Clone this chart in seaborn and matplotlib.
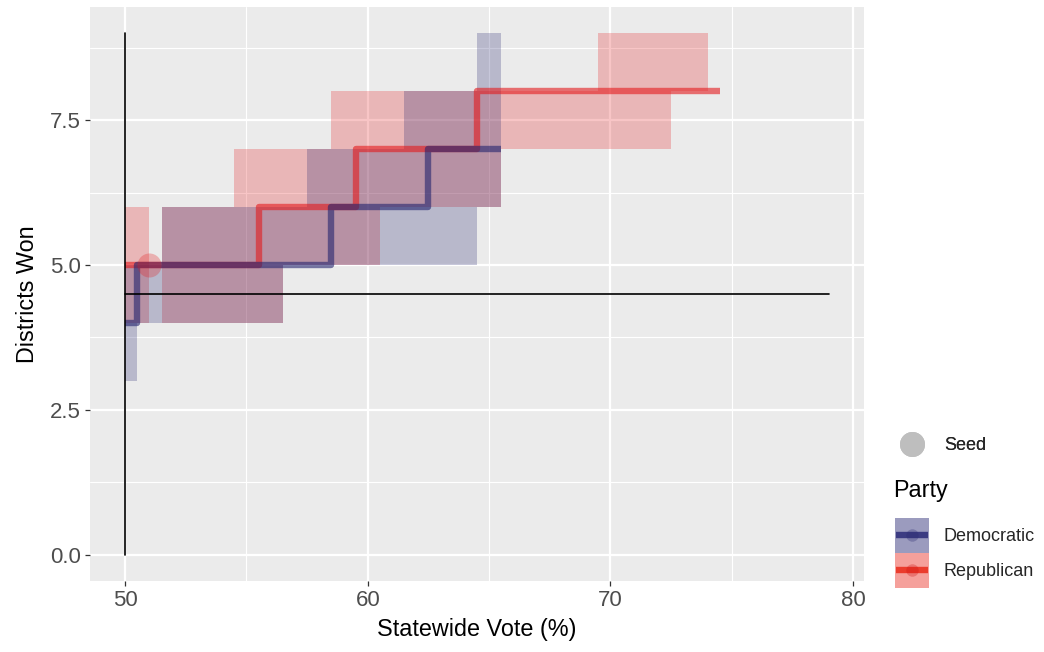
import matplotlib
matplotlib.use("Agg")
import matplotlib.pyplot as plt
from matplotlib.patches import Rectangle
from matplotlib.lines import Line2D
import seaborn as sns
import pandas as pd

# ---------------- data ----------------
parties = ["Democratic", "Republican"]

dem_rect_xmin = [50.0, 50.0, 51.5, 56.5, 57.5, 61.5, 64.5]
dem_rect_xmax = [50.5, 51.5, 56.5, 64.5, 65.5, 65.5, 65.5]
dem_rect_ymin = [3, 4, 4, 5, 6, 7, 8]
dem_rect_ymax = [4, 5, 6, 6, 7, 8, 9]

rep_rect_xmin = [50.0, 51.5, 56.5, 54.5, 58.5, 69.5]
rep_rect_xmax = [51.0, 56.5, 60.5, 65.5, 72.5, 74.0]
rep_rect_ymin = [4, 4, 5, 6, 7, 8]
rep_rect_ymax = [6, 6, 6, 7, 8, 9]

dem_step_x = [50.0, 50.5, 58.5, 62.5, 65.5]
dem_step_y = [4, 5, 6, 7, 7]
rep_step_x = [50.0, 55.5, 59.5, 64.5, 74.5]
rep_step_y = [5, 6, 7, 8, 8]

seed_x = [51.0]
seed_y = [5.0]

vline_x = 50
vline_y = [0, 9]
hline_y = 4.5
hline_x = [50, 79]

x_ticks = [50, 60, 70, 80]
y_ticks = [0.0, 2.5, 5.0, 7.5]
y_tick_labels = ["0.0", "2.5", "5.0", "7.5"]

# ---------------- style ----------------
DEM = "#23236E"
REP = "#E41A1C"
BG = "#EBEBEB"

sns.set_theme(style="darkgrid")
plt.rcParams["font.family"] = ["Liberation Sans", "DejaVu Sans"]

fig = plt.figure(figsize=(10.44, 6.52), dpi=100)
ax = fig.add_axes([90 / 1044, 1 - 581 / 652, (864 - 90) / 1044, (581 - 7) / 652])
ax.set_facecolor(BG)

# rectangles (Republican first, Democratic on top)
rep_df = pd.DataFrame({"xmin": rep_rect_xmin, "xmax": rep_rect_xmax,
                       "ymin": rep_rect_ymin, "ymax": rep_rect_ymax})
dem_df = pd.DataFrame({"xmin": dem_rect_xmin, "xmax": dem_rect_xmax,
                       "ymin": dem_rect_ymin, "ymax": dem_rect_ymax})
ax.bar(rep_df["xmin"], rep_df["ymax"] - rep_df["ymin"], width=rep_df["xmax"] - rep_df["xmin"],
       bottom=rep_df["ymin"], align="edge", color=REP, alpha=0.25, linewidth=0, zorder=2)
ax.bar(dem_df["xmin"], dem_df["ymax"] - dem_df["ymin"], width=dem_df["xmax"] - dem_df["xmin"],
       bottom=dem_df["ymin"], align="edge", color=DEM, alpha=0.25, linewidth=0, zorder=2)

# step lines
sns.lineplot(x=rep_step_x, y=rep_step_y, ax=ax, color=REP, lw=4.6, alpha=0.6,
             drawstyle="steps-post", estimator=None, sort=False,
             solid_joinstyle="round", solid_capstyle="butt", zorder=3)
sns.lineplot(x=dem_step_x, y=dem_step_y, ax=ax, color=DEM, lw=4.6, alpha=0.6,
             drawstyle="steps-post", estimator=None, sort=False,
             solid_joinstyle="round", solid_capstyle="butt", zorder=3)

# seed point
sns.scatterplot(x=seed_x, y=seed_y, ax=ax, color=REP, alpha=0.28, s=300,
                linewidth=0, zorder=4, legend=False)

# reference lines
ax.plot([vline_x, vline_x], vline_y, color="black", lw=1.2, zorder=5)
ax.plot(hline_x, [hline_y, hline_y], color="black", lw=1.2, zorder=5)

# axes
ax.set_xlim(48.55, 80.45)
ax.set_ylim(-0.45, 9.45)
ax.set_xticks(x_ticks)
ax.set_xticklabels([str(v) for v in x_ticks])
ax.set_yticks(y_ticks)
ax.set_yticklabels(y_tick_labels)
ax.set_xticks([55, 65, 75], minor=True)
ax.set_yticks([1.25, 3.75, 6.25, 8.75], minor=True)
ax.grid(which="major", color="white", lw=1.6)
ax.grid(which="minor", color="white", lw=0.8)
ax.set_axisbelow(True)
for s in ax.spines.values():
    s.set_visible(False)
ax.tick_params(axis="both", which="major", length=3.5, width=0.9, color="#333333",
               labelsize=16, labelcolor="#4D4D4D", pad=3, bottom=True, left=True)
ax.tick_params(axis="both", which="minor", length=0)
ax.set_xlabel("Statewide Vote (%)", fontsize=16.8, color="black", labelpad=5)
ax.set_ylabel("Districts Won", fontsize=16.8, color="black", labelpad=8)


# ---------------- legend keys ----------------
class Key:
    def __init__(self, fill=None, line=None, dot=None, dot_alpha=0.3, dot_size=9):
        self.fill, self.line, self.dot = fill, line, dot
        self.dot_alpha, self.dot_size = dot_alpha, dot_size


class KeyHandler:
    def legend_artist(self, legend, orig, fontsize, handlebox):
        x0, y0 = -handlebox.xdescent, -handlebox.ydescent
        w, h = handlebox.width, handlebox.height
        tr = handlebox.get_transform()
        first = None
        if orig.fill is not None:
            r = Rectangle((x0, y0), w, h, facecolor=orig.fill, edgecolor="none", transform=tr)
            handlebox.add_artist(r)
            first = r
        if orig.line is not None:
            ln = Line2D([x0 + 1, x0 + w - 1], [y0 + h / 2] * 2, color=orig.line, lw=4.6,
                        solid_capstyle="butt", transform=tr)
            handlebox.add_artist(ln)
            first = first or ln
        if orig.dot is not None:
            d = Line2D([x0 + w / 2], [y0 + h / 2], marker="o", ls="", color=orig.dot,
                       alpha=orig.dot_alpha, markersize=orig.dot_size, markeredgewidth=0,
                       transform=tr)
            handlebox.add_artist(d)
            first = first or d
        return first


seed_key = Key(dot="#BEBEBE", dot_alpha=1.0, dot_size=18)
dem_key = Key(fill="#9B9BBE", line="#3C3C82", dot="#2A2A70")
rep_key = Key(fill="#F5A09B", line="#EB3C2D", dot="#D01010")
hmap = {Key: KeyHandler()}

leg1 = fig.legend([seed_key], ["Seed"], handler_map=hmap, loc="upper left",
                  bbox_to_anchor=(895 / 1044, 1 - 427 / 652), frameon=False,
                  fontsize=13, handlelength=1.9, handleheight=2.6, handletextpad=0.8,
                  borderpad=0, borderaxespad=0)
leg2 = fig.legend([dem_key, rep_key], parties, handler_map=hmap, loc="upper left",
                  bbox_to_anchor=(895 / 1044, 1 - 518 / 652), frameon=False,
                  fontsize=13, handlelength=1.9, handleheight=2.6,
                  handletextpad=0.8, labelspacing=0.0, borderpad=0, borderaxespad=0)
fig.add_artist(leg1)
fig.text(893 / 1044, 1 - 490 / 652, "Party", fontsize=16.8, color="black",
         ha="left", va="center")

fig.savefig("out.png", dpi=100)
